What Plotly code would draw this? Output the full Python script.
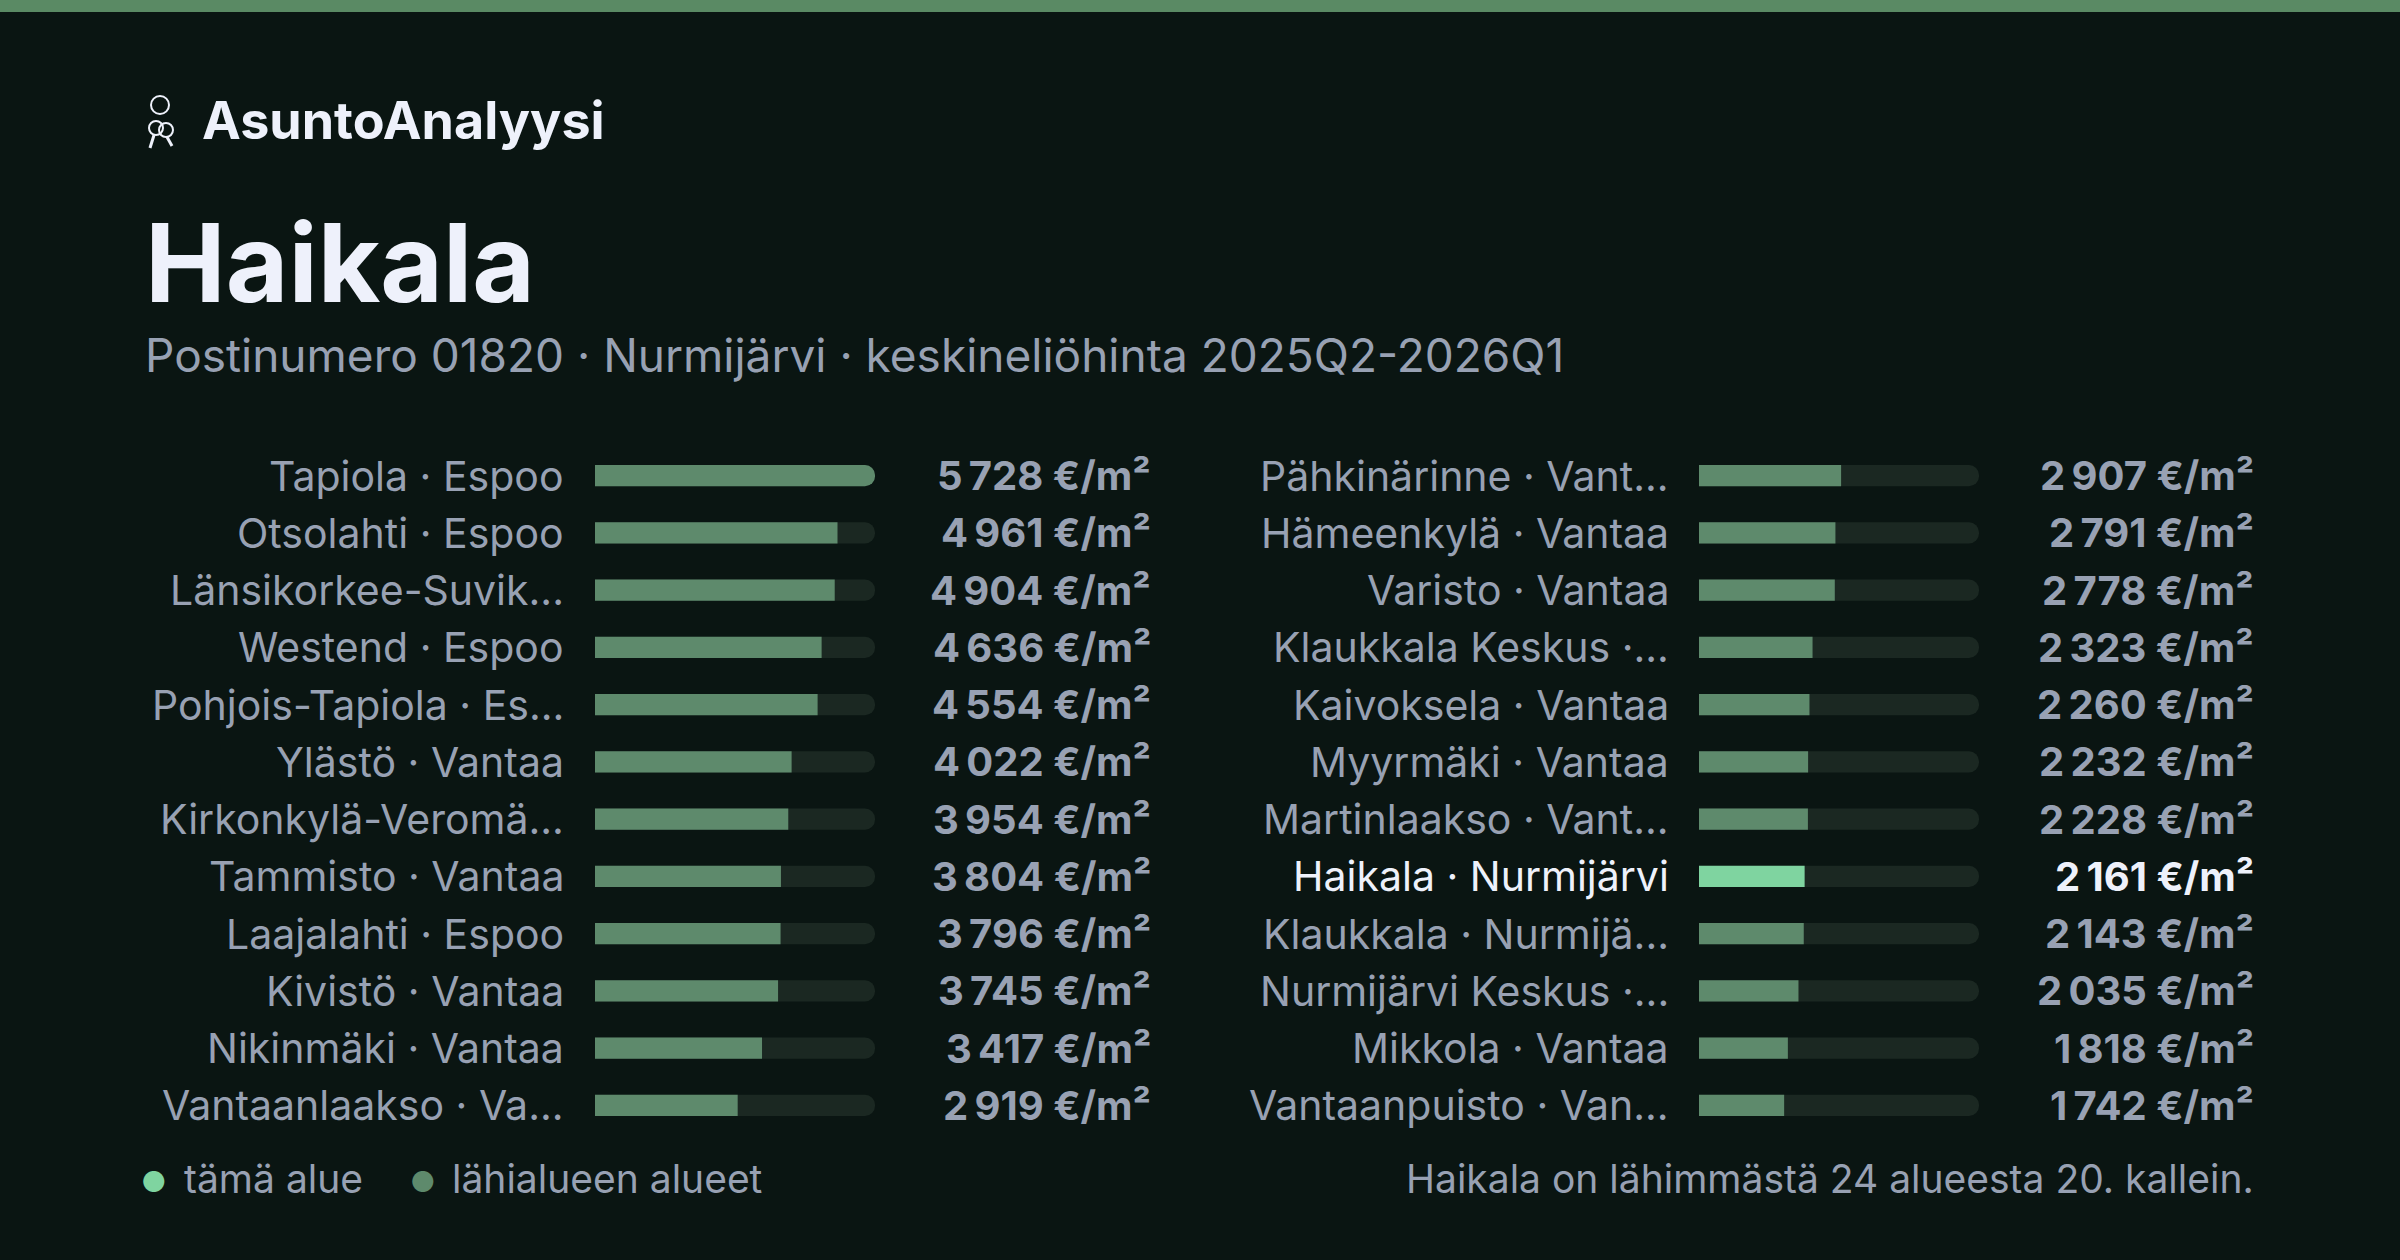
import plotly.graph_objects as go

W, H = 2400, 1260

left_labels = ["Tapiola · Espoo", "Otsolahti · Espoo", "Länsikorkee-Suvik...", "Westend · Espoo",
               "Pohjois-Tapiola · Es...", "Ylästö · Vantaa", "Kirkonkylä-Veromä...", "Tammisto · Vantaa",
               "Laajalahti · Espoo", "Kivistö · Vantaa", "Nikinmäki · Vantaa", "Vantaanlaakso · Va..."]
left_values = [5728, 4961, 4904, 4636, 4554, 4022, 3954, 3804, 3796, 3745, 3417, 2919]
right_labels = ["Pähkinärinne · Vant...", "Hämeenkylä · Vantaa", "Varisto · Vantaa", "Klaukkala Keskus ·...",
                "Kaivoksela · Vantaa", "Myyrmäki · Vantaa", "Martinlaakso · Vant...", "Haikala · Nurmijärvi",
                "Klaukkala · Nurmijä...", "Nurmijärvi Keskus ·...", "Mikkola · Vantaa", "Vantaanpuisto · Van..."]
right_values = [2907, 2791, 2778, 2323, 2260, 2232, 2228, 2161, 2143, 2035, 1818, 1742]
highlight = "Haikala · Nurmijärvi"

BG = "#0a1512"
TRACK = "#1b2822"
BAR = "#5e8a6c"
HI = "#7fd4a0"
GREY = "#98a1b3"
WHITE = "#eef1fb"
FONT = "Inter"

vmax = max(left_values + right_values)

def px(x):
    return x / W

def py(y):
    return 1 - y / H

y_top, y_bot = py(447), py(1134)

fig = go.Figure()

columns = [
    (left_labels, left_values, "x", "y", 566, 1153),
    (right_labels, right_values, "x2", "y2", 1671, 2256),
]

for labels, values, xa, ya, lab_x, val_x in columns:
    cats = list(range(len(labels)))
    colors = [HI if l == highlight else BAR for l in labels]
    fig.add_trace(go.Bar(x=[vmax] * len(values), y=cats, orientation="h",
                         marker=dict(color=TRACK, cornerradius=10, line=dict(width=0)),
                         width=0.37, xaxis=xa, yaxis=ya, hoverinfo="skip", showlegend=False))
    fig.add_trace(go.Bar(x=values, y=cats, orientation="h",
                         marker=dict(color=colors, cornerradius=10, line=dict(width=0)),
                         width=0.37, xaxis=xa, yaxis=ya, showlegend=False))
    for c, l, v in zip(cats, labels, values):
        hi = l == highlight
        fig.add_annotation(x=px(lab_x), xref="paper", y=c, yref=ya, text=l, showarrow=False,
                           xanchor="right", yanchor="middle",
                           font=dict(family=FONT, size=41, color=WHITE if hi else GREY))
        fig.add_annotation(x=px(val_x), xref="paper", y=c, yref=ya,
                           text="<b>" + f"{v:,}".replace(",", "\u2009") + " €/m²</b>", showarrow=False,
                           xanchor="right", yanchor="middle",
                           font=dict(family=FONT, size=40, color=WHITE if hi else GREY))

axis_common = dict(showgrid=False, zeroline=False, showticklabels=False, fixedrange=True)
fig.update_layout(
    width=W, height=H, margin=dict(l=0, r=0, t=0, b=0),
    paper_bgcolor=BG, plot_bgcolor=BG, barmode="overlay",
    xaxis=dict(domain=[px(595), px(875)], range=[0, vmax], **axis_common),
    xaxis2=dict(domain=[px(1699), px(1979)], range=[0, vmax], anchor="y2", **axis_common),
    yaxis=dict(domain=[y_bot, y_top], range=[11.5, -0.5], **axis_common),
    yaxis2=dict(domain=[y_bot, y_top], range=[11.5, -0.5], anchor="x2", **axis_common),
)

# top accent strip
fig.add_shape(type="rect", xref="paper", yref="paper", x0=0, x1=1, y0=py(12), y1=1,
              fillcolor="#5a8a64", line_width=0, layer="below")

# key icon
for cx, cy, r in [(160, 105, 9), (156, 128, 7), (166, 130, 7)]:
    fig.add_shape(type="circle", xref="paper", yref="paper", x0=px(cx - r), x1=px(cx + r),
                  y0=py(cy + r), y1=py(cy - r), line=dict(color=WHITE, width=2))
fig.add_shape(type="line", xref="paper", yref="paper", x0=px(154), x1=px(150), y0=py(135), y1=py(148),
              line=dict(color=WHITE, width=3))
fig.add_shape(type="line", xref="paper", yref="paper", x0=px(167), x1=px(172), y0=py(137), y1=py(146),
              line=dict(color=WHITE, width=3))

texts = [
    (200, 120, "<b>AsuntoAnalyysi</b>", 52, WHITE, "left"),
    (143, 262, "<b>Haikala</b>", 108, WHITE, "left"),
    (143, 355, "Postinumero 01820 · Nurmijärvi · keskineliöhinta 2025Q2-2026Q1", 46, GREY, "left"),
    (182, 1178, "tämä alue", 39, GREY, "left"),
    (450, 1178, "lähialueen alueet", 39, GREY, "left"),
    (2256, 1178, "Haikala on lähimmästä 24 alueesta 20. kallein.", 39, GREY, "right"),
]
for x, y, t, s, c, anc in texts:
    fig.add_annotation(x=px(x), y=py(y), xref="paper", yref="paper", text=t, showarrow=False,
                       xanchor=anc, yanchor="middle", font=dict(family=FONT, size=s, color=c))

for x, col in [(154, HI), (423, BAR)]:
    fig.add_annotation(x=px(x), y=py(1182), xref="paper", yref="paper", text="●", showarrow=False,
                       xanchor="center", yanchor="middle", font=dict(family=FONT, size=28, color=col))

fig.write_html("out.html", config={"displayModeBar": False},
               post_script="document.body.style.margin='0';document.body.style.background='#0a1512';")
